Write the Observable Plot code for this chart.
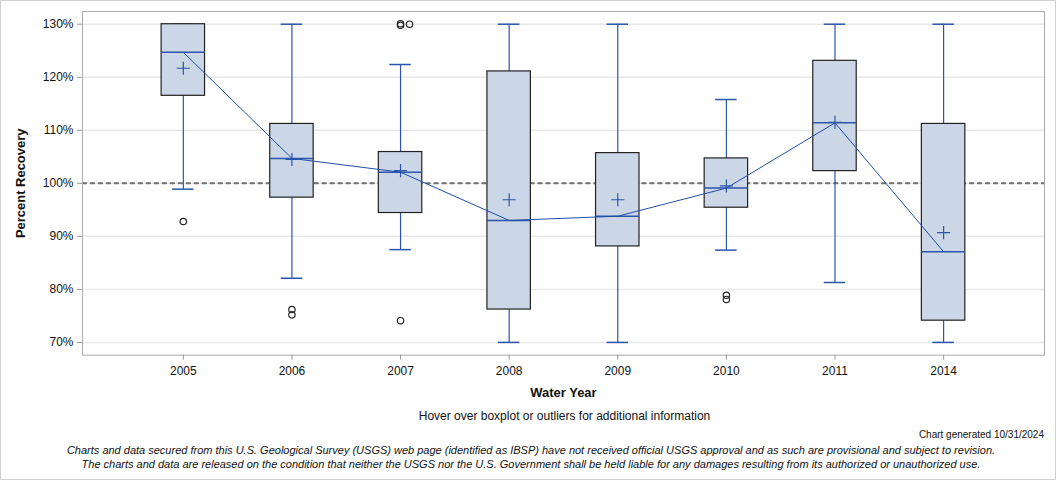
<!DOCTYPE html>
<html>
<head>
<meta charset="utf-8">
<script src="https://cdn.jsdelivr.net/npm/d3@7"></script>
<script src="https://cdn.jsdelivr.net/npm/@observablehq/plot@0.6"></script>
<style>
  html, body { margin: 0; padding: 0; background: #fff; }
  #wrap { position: relative; width: 1056px; height: 480px; box-sizing: border-box; border: 1px solid #d0d0d0; overflow: hidden; font-family: "Liberation Sans", Arial, sans-serif; }
  #chart { position: absolute; left: -1px; top: -1px; }
  .t { position: absolute; white-space: nowrap; color: #111; }
</style>
</head>
<body>
<div id="wrap">
  <div id="chart"></div>
  <div class="t" id="hover" style="left:0; width:1127px; text-align:center; top:408px; font-size:12px;">Hover over boxplot or outliers for additional information</div>
  <div class="t" style="right:11px; top:428px; font-size:10px;">Chart generated 10/31/2024</div>
  <div class="t" style="left:0; width:1060px; text-align:center; top:443px; font-size:11px; font-style:italic; line-height:13.5px;">Charts and data secured from this U.S. Geological Survey (USGS) web page (identified as IBSP) have not received official USGS approval and as such are provisional and subject to revision.<br>The charts and data are released on the condition that neither the USGS nor the U.S. Government shall be held liable for any damages resulting from its authorized or unauthorized use.</div>
</div>
<script>
const years   = ["2005", "2006", "2007", "2008", "2009", "2010", "2011", "2014"];
const lowW    = [98.9, 82.1, 87.5, 70.0, 70.0, 87.4, 81.3, 70.0];
const q1      = [116.5, 97.3, 94.4, 76.2, 88.1, 95.4, 102.3, 74.1];
const median  = [124.7, 104.7, 102.1, 93.0, 93.8, 99.1, 111.4, 87.1];
const mean    = [121.7, 104.5, 102.4, 96.9, 96.9, 99.5, 111.5, 90.7];
const q3      = [130.0, 111.2, 105.9, 121.1, 105.7, 104.7, 123.1, 111.2];
const highW   = [130.0, 130.0, 122.4, 130.0, 130.0, 115.8, 130.0, 130.0];
const outYear  = ["2005", "2006", "2006", "2007", "2007", "2007", "2010", "2010"];
const outValue = [92.8, 76.2, 75.2, 130.1, 129.8, 74.1, 78.9, 78.1];
// overlapping outlier shown shifted beside the others
const shiftYear  = ["2007"];
const shiftValue = [130.0];
const yTicks = [70, 80, 90, 100, 110, 120, 130];
const refValue = [100];

const boxes = years.map((y, i) => ({year: y, low: lowW[i], q1: q1[i], median: median[i], mean: mean[i], q3: q3[i], high: highW[i]}));
const outliers = outYear.map((y, i) => ({year: y, value: outValue[i]}));
const shifted = shiftYear.map((y, i) => ({year: y, value: shiftValue[i]}));

const blue = "#2a55aa";
const chart = Plot.plot({
  width: 1056,
  height: 400,
  marginLeft: 82,
  marginRight: 11,
  marginTop: 11,
  marginBottom: 45,
  style: {fontFamily: "'Liberation Sans', Arial, sans-serif", fontSize: "12px", color: "#111", background: "#fff"},
  x: {type: "band", domain: years, paddingInner: 0.6, paddingOuter: 0.729, round: false, axis: null},
  y: {domain: [67.6, 132.4], axis: null},
  marks: [
    Plot.gridY(yTicks, {stroke: "#e8e8e8", strokeOpacity: 1, strokeWidth: 1.5}),
    Plot.ruleY(refValue, {stroke: "#707070", strokeWidth: 2, strokeDasharray: "5,3"}),
    Plot.ruleX(boxes, {x: "year", y1: "low", y2: "high", stroke: blue, strokeWidth: 1.2}),
    Plot.tickY(boxes, {x: "year", y: "low", stroke: blue, strokeWidth: 1.5, insetLeft: 11, insetRight: 11}),
    Plot.tickY(boxes, {x: "year", y: "high", stroke: blue, strokeWidth: 1.5, insetLeft: 11, insetRight: 11}),
    Plot.barY(boxes, {x: "year", y1: "q1", y2: "q3", fill: "#cbd6e6", stroke: "#222", strokeWidth: 1.2}),
    Plot.tickY(boxes, {x: "year", y: "median", stroke: blue, strokeWidth: 1.5}),
    Plot.line(boxes, {x: "year", y: "median", stroke: "#1f4ea8", strokeWidth: 1}),
    Plot.dot(boxes, {x: "year", y: "mean", symbol: "plus", r: 4.3, stroke: blue, strokeWidth: 1.2}),
    Plot.dot(outliers, {x: "year", y: "value", r: 3.2, stroke: "#222", fill: "none", strokeWidth: 1.2}),
    Plot.dot(shifted, {x: "year", y: "value", r: 3.2, dx: 9, stroke: "#222", fill: "none", strokeWidth: 1.2}),
    Plot.frame({stroke: "#a8a8a8"}),
    Plot.axisY(yTicks, {tickFormat: d => d + "%", tickSize: 5, tickPadding: 4, stroke: "#999", fontSize: 12, label: null}),
    Plot.axisX(years, {tickSize: 5, tickPadding: 6, stroke: "#999", fontSize: 12, label: null}),
    Plot.text(["Water Year"], {frameAnchor: "bottom", dy: 42, fontWeight: "bold", fontSize: 13}),
    Plot.text(["Percent Recovery"], {frameAnchor: "left", textAnchor: "middle", dx: -62, rotate: -90, fontWeight: "bold", fontSize: 13})
  ]
});
document.getElementById("chart").appendChild(chart);
</script>
</body>
</html>
